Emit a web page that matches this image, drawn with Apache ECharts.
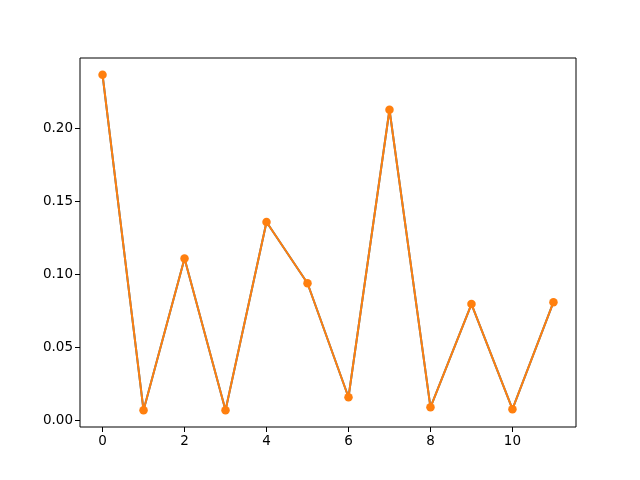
<!DOCTYPE html>
<html>
<head>
<meta charset="utf-8">
<script src="https://cdn.jsdelivr.net/npm/echarts@6/dist/echarts.min.js"></script>
<style>
  html, body { margin: 0; padding: 0; background: #fff; }
  #main { width: 640px; height: 480px; }
</style>
</head>
<body>
<div id="main"></div>
<script>
// data
var xValues = [0, 1, 2, 3, 4, 5, 6, 7, 8, 9, 10, 11];
var yValues = [0.237, 0.0069, 0.111, 0.0069, 0.136, 0.094, 0.0158, 0.213, 0.0089, 0.0797, 0.0076, 0.081];
var xTicks = [0, 2, 4, 6, 8, 10];
var yTicks = [0, 0.05, 0.10, 0.15, 0.20];

var points = xValues.map(function (x, i) { return [x, yValues[i]]; });

var chart = echarts.init(document.getElementById('main'));
var labelStyle = { color: '#000', fontFamily: 'DejaVu Sans', fontSize: 13.5 };

var option = {
  animation: false,
  grid: {
    left: 80, right: 64, top: 58, bottom: 53,
    show: true, borderColor: '#000', borderWidth: 1, backgroundColor: 'transparent'
  },
  xAxis: {
    type: 'value',
    min: -0.55, max: 11.55,
    splitLine: { show: false },
    axisLine: { show: false, onZero: false },
    axisTick: { show: true, length: 5, lineStyle: { color: '#000' }, customValues: xTicks },
    axisLabel: Object.assign({ margin: 7, customValues: xTicks, formatter: function (v) { return String(v); } }, labelStyle)
  },
  yAxis: {
    type: 'value',
    min: -0.0046, max: 0.2485,
    splitLine: { show: false },
    axisLine: { show: false, onZero: false },
    axisTick: { show: true, length: 5, lineStyle: { color: '#000' }, customValues: yTicks },
    axisLabel: Object.assign({ margin: 7, customValues: yTicks, formatter: function (v) { return v.toFixed(2); } }, labelStyle)
  },
  series: [
    {
      type: 'line',
      data: points,
      showSymbol: false,
      lineStyle: { color: '#1f77b4', width: 2 },
      itemStyle: { color: '#1f77b4' }
    },
    {
      type: 'line',
      data: points,
      symbol: 'circle',
      symbolSize: 8.5,
      lineStyle: { color: '#ff7f0e', width: 2 },
      itemStyle: { color: '#ff7f0e' }
    }
  ]
};

chart.setOption(option);
</script>
</body>
</html>
